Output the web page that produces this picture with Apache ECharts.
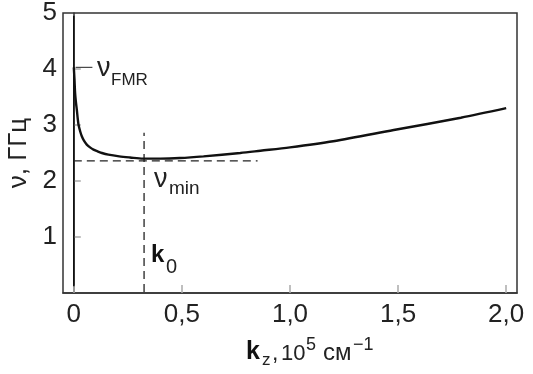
<!DOCTYPE html>
<html>
<head>
<meta charset="utf-8">
<script src="https://cdn.jsdelivr.net/npm/echarts@6/dist/echarts.min.js"></script>
<style>html,body{margin:0;padding:0;background:#fff;}#c{width:533px;height:374px;}</style>
</head>
<body>
<div id="c"></div>
<script>
// dispersion curve nu(kz)
var kz = [0, 0.003, 0.006, 0.010, 0.014, 0.018, 0.022, 0.030, 0.037, 0.047, 0.060, 0.075, 0.091, 0.110, 0.130, 0.160, 0.210, 0.260, 0.320, 0.400, 0.490, 0.600, 0.770, 0.863, 1.000, 1.200, 1.480, 1.790, 2.000];
var nu = [4.03, 3.82, 3.57, 3.40, 3.27, 3.12, 3.00, 2.88, 2.80, 2.72, 2.65, 2.60, 2.56, 2.53, 2.50, 2.47, 2.44, 2.42, 2.40, 2.40, 2.41, 2.44, 2.50, 2.54, 2.60, 2.71, 2.91, 3.13, 3.30];
// vertical branch at kz = 0
var branchK = [0, 0];
var branchNu = [0.12, 4.95];
// FMR marker
var fmrK = [0.008, 0.086];
var fmrNu = [4.03, 4.03];
// minimum markers
var k0 = 0.325;
var nuMin = 2.36;
var k0LineNu = [0.02, 2.86];
var nuMinLineK = [0, 0.85];
// ticks
var xTicks = [0, 0.5, 1.0, 1.5, 2.0];
var xTickLabels = ['0', '0,5', '1,0', '1,5', '2,0'];
var yTicks = [1, 2, 3, 4];
var yLabelVals = [1, 2, 3, 4, 5];

function zip(a, b) { return a.map(function (v, i) { return [v, b[i]]; }); }

var chart = echarts.init(document.getElementById('c'), null, {renderer: 'canvas'});
var font = 'Liberation Sans, Arial, Helvetica, sans-serif';
function txt(left, top, text, size, bold) {
  return {type: 'text', left: left, top: top, style: {text: text, fontSize: size, fontWeight: bold ? 'bold' : 'normal', fontFamily: font, fill: bold ? '#111' : '#222'}};
}
chart.setOption({
  animation: false,
  backgroundColor: '#fff',
  grid: {left: 63, top: 13, right: 16, bottom: 81, show: true, borderColor: '#333', borderWidth: 1.5, containLabel: false, outerBoundsMode: 'none'},
  xAxis: {
    type: 'value', min: -0.05, max: 2.05,
    axisLine: {show: true, lineStyle: {color: '#333', width: 1.5}},
    axisTick: {show: true, inside: true, length: 8, customValues: xTicks, lineStyle: {color: '#aaa', width: 1.5}},
    axisLabel: {customValues: xTicks, margin: 9, color: '#222', fontSize: 26, fontFamily: font,
      formatter: function (v) { var i = xTicks.indexOf(v); return i >= 0 ? xTickLabels[i] : ''; }},
    splitLine: {show: false}
  },
  yAxis: {
    type: 'value', min: 0, max: 5,
    name: 'ν, ГГц', nameLocation: 'middle', nameGap: 29, nameRotate: 90,
    nameTextStyle: {color: '#222', fontSize: 26, fontFamily: font},
    axisLine: {show: true, lineStyle: {color: '#333', width: 1.5}},
    axisTick: {show: true, inside: true, length: 7, customValues: yTicks, lineStyle: {color: '#aaa', width: 1.5}},
    axisLabel: {customValues: yLabelVals, margin: 6, color: '#222', fontSize: 26, fontFamily: font},
    splitLine: {show: false}
  },
  series: [
    {type: 'line', data: zip(branchK, branchNu), symbol: 'none', lineStyle: {color: '#111', width: 1.6}},
    {type: 'line', data: zip(fmrK, fmrNu), symbol: 'none', lineStyle: {color: '#222', width: 1}},
    {type: 'line', data: zip([k0, k0], k0LineNu), symbol: 'none', lineStyle: {color: '#222', width: 1.3, type: [8, 5]}},
    {type: 'line', data: zip(nuMinLineK, [nuMin, nuMin]), symbol: 'none', lineStyle: {color: '#222', width: 1.3, type: [8, 5]}},
    {type: 'line', data: zip(kz, nu), symbol: 'none', smooth: 0.3, lineStyle: {color: '#111', width: 2.4}}
  ],
  graphic: [
    txt(97, 55, 'ν', 27),
    txt(111, 72, 'FMR', 17),
    txt(154, 166, 'ν', 27),
    txt(169, 179, 'min', 19),
    txt(151, 243, 'k', 24, true),
    txt(166, 257, '0', 20),
    txt(246, 340, 'k', 25, true),
    txt(262, 352, 'z', 17),
    txt(272, 342, ',', 23),
    txt(281, 343, '10', 22),
    txt(306, 336, '5', 18),
    txt(323, 341, 'см', 24),
    txt(353, 336, '−1', 18)
  ]
});
</script>
</body>
</html>
